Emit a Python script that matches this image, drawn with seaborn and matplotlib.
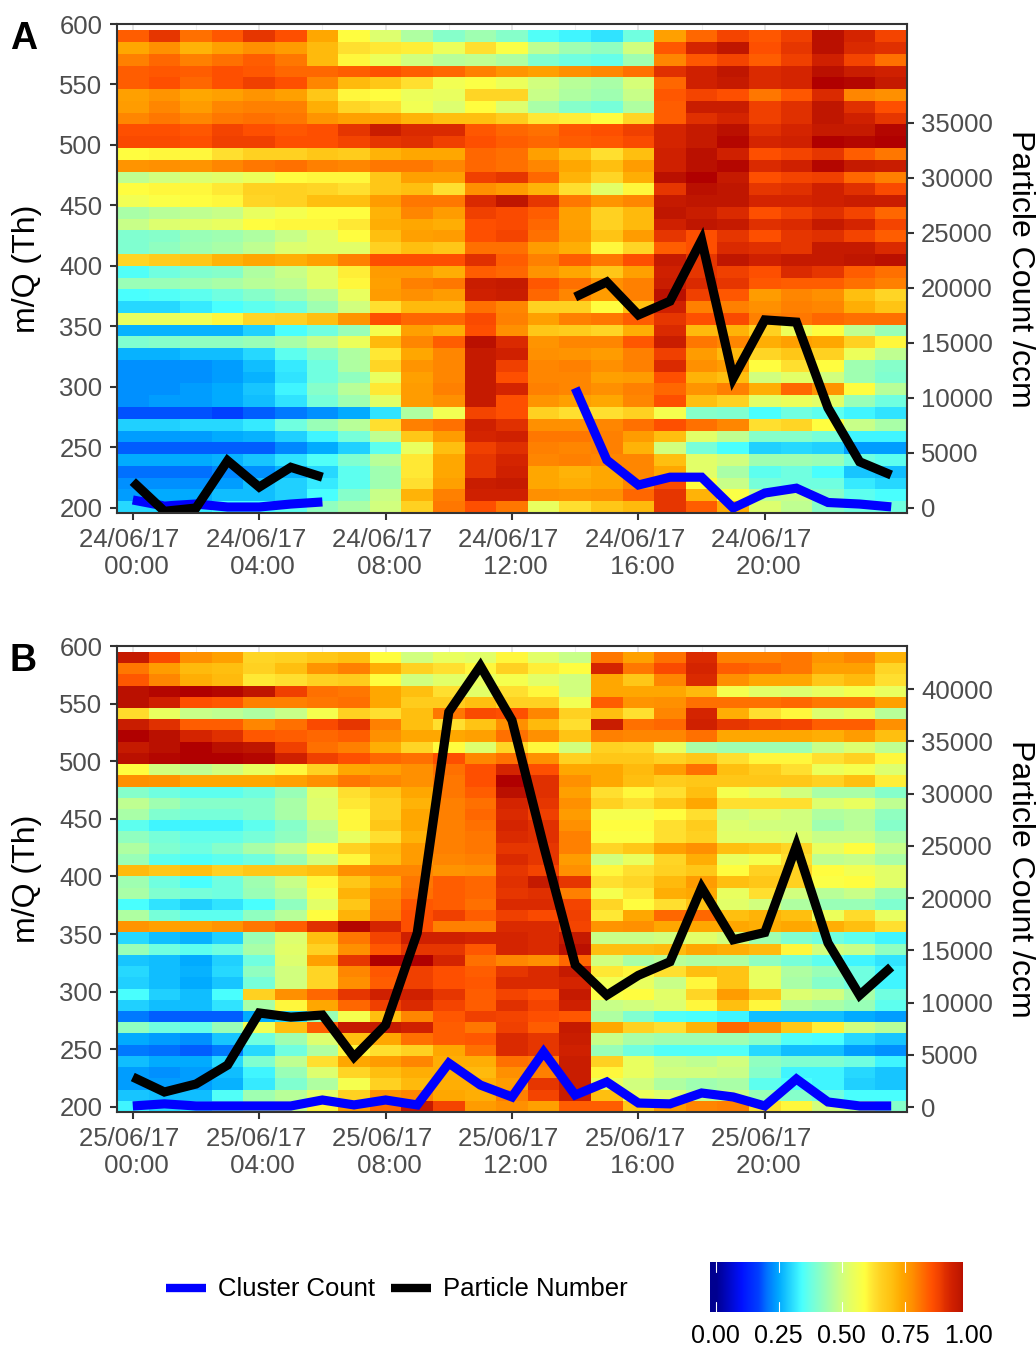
import numpy as np
import pandas as pd
import matplotlib
matplotlib.use("Agg")
import matplotlib.pyplot as plt
from matplotlib.colors import LinearSegmentedColormap
from matplotlib.lines import Line2D
import seaborn as sns

# Normalised intensity (percent), rows listed from top (high m/Q) to bottom, columns = hours 0..24
heat_a = [
[84,90,82,85,90,86,74,59,52,46,41,44,41,35,33,31,38,75,83,88,85,89,98,93,88],
[74,78,72,75,78,76,71,63,62,61,55,63,58,48,44,42,50,85,93,97,86,90,98,92,91],
[80,83,80,82,84,81,71,60,55,50,47,48,46,40,38,37,44,79,85,88,84,89,94,88,82],
[84,85,84,86,85,83,83,84,86,84,83,80,77,75,78,79,82,91,94,97,92,93,98,95,94],
[84,86,83,86,89,86,79,71,68,63,56,58,55,50,47,45,51,83,94,96,92,93,100,99,96],
[75,77,74,75,77,75,68,60,59,55,54,65,65,49,46,44,49,85,88,86,81,85,92,79,78],
[76,79,76,79,80,80,73,65,63,56,52,59,52,45,41,39,46,84,95,95,89,91,97,91,86],
[79,81,79,81,82,81,77,75,75,72,70,70,67,62,61,59,65,84,91,93,89,91,97,94,90],
[86,86,85,88,86,85,86,90,95,92,92,85,83,82,85,86,89,93,96,98,91,93,96,96,99],
[87,87,86,89,89,86,86,88,90,91,89,86,84,83,84,85,87,93,96,99,93,94,100,99,100],
[59,60,60,63,66,66,68,67,72,74,74,83,82,75,70,63,70,94,98,94,86,88,90,84,81],
[77,78,77,79,81,82,80,79,81,81,79,83,82,79,74,70,76,94,98,99,92,94,99,96,95],
[48,50,52,53,55,59,60,60,68,75,75,89,90,83,72,65,73,98,100,96,86,88,89,83,80],
[59,60,60,62,66,66,65,63,68,70,63,78,76,72,63,53,60,90,98,97,90,91,94,91,87],
[56,58,59,60,65,66,70,70,76,81,81,92,97,90,81,77,79,96,97,97,93,93,94,95,95],
[45,47,48,49,54,57,59,59,72,79,76,89,87,84,75,66,71,97,95,92,86,89,91,88,83],
[49,52,53,54,59,60,60,62,73,74,73,86,87,83,75,66,71,94,97,96,91,92,96,93,88],
[40,41,43,44,46,49,53,59,70,75,76,86,88,82,76,69,76,90,86,90,86,90,91,88,84],
[40,42,44,45,48,52,53,53,66,70,68,82,82,76,73,60,65,84,86,92,91,90,96,96,92],
[65,67,68,72,74,73,75,80,86,86,86,91,84,80,84,81,86,96,90,97,94,96,96,97,98],
[35,38,40,41,46,49,53,61,76,76,73,84,83,77,74,68,75,94,90,89,86,92,90,84,82],
[43,43,44,45,47,48,53,60,75,80,81,95,96,85,82,78,80,95,92,90,85,84,84,82,80],
[34,35,36,38,41,44,47,54,76,78,76,94,95,83,79,76,80,98,89,85,76,79,78,70,65],
[30,30,32,34,36,38,44,50,63,71,71,82,79,66,66,59,70,94,80,80,78,80,79,73,69],
[54,55,56,60,65,66,70,77,86,83,83,87,80,75,80,81,84,90,86,87,80,81,83,82,82],
[26,26,26,26,29,34,38,43,57,75,73,86,78,68,67,65,73,92,71,72,66,55,59,48,43],
[40,41,42,42,43,45,49,55,71,79,84,98,92,77,79,79,85,95,81,79,73,75,74,66,60],
[26,26,27,27,30,36,41,46,62,74,79,96,94,78,77,76,80,89,76,71,65,68,66,55,48],
[23,23,23,24,27,32,38,46,65,77,79,96,89,79,80,78,80,92,78,76,59,63,59,44,41],
[23,23,23,24,26,31,38,42,54,75,79,96,86,79,79,75,76,86,72,70,50,53,50,44,40],
[23,23,24,25,28,33,41,47,62,76,80,96,93,80,79,78,80,83,77,80,73,83,77,59,47],
[23,24,24,25,27,31,39,44,53,76,78,96,86,77,75,74,79,86,70,66,53,55,53,43,38],
[18,18,18,17,19,21,23,25,31,46,56,88,86,66,63,63,66,57,41,40,34,38,36,33,31],
[29,29,30,30,32,38,43,47,63,80,82,94,91,78,78,79,82,86,82,79,63,65,59,49,45],
[24,24,24,25,26,29,33,39,48,68,76,93,94,81,81,80,76,70,53,48,41,41,39,33,33],
[19,19,19,19,19,22,25,29,36,54,70,89,91,80,79,80,72,50,39,34,29,30,29,24,24],
[25,25,25,26,28,31,35,40,47,62,74,90,93,79,80,79,79,70,53,50,44,44,43,38,36],
[20,20,20,22,23,26,30,36,44,62,74,90,94,74,72,74,79,74,53,45,36,38,34,28,27],
[23,23,23,24,27,29,32,36,44,63,75,95,96,74,73,74,79,87,59,49,39,38,38,32,30],
[24,25,25,27,27,29,34,41,49,72,80,94,94,78,77,78,83,90,72,58,48,49,41,36,34],
[30,30,32,34,34,36,42,45,50,66,81,86,81,54,63,68,71,90,84,73,52,48,41,38,38],
]

heat_b = [
[96,87,78,75,65,66,68,70,59,50,54,53,60,53,49,81,75,82,92,80,80,81,77,79,72],
[81,76,71,70,66,70,77,80,73,66,63,60,66,61,59,93,81,87,93,84,83,81,75,75,65],
[85,79,73,71,62,63,66,67,59,50,53,54,57,53,50,74,68,79,92,78,74,74,68,71,63],
[98,99,100,99,97,89,82,81,74,70,63,53,63,60,50,74,74,74,71,57,53,52,54,57,54],
[98,94,86,85,80,80,81,82,74,67,67,70,66,66,56,84,77,78,82,82,82,83,81,81,75],
[64,54,49,48,46,49,57,66,63,70,81,87,86,79,66,70,63,79,93,73,63,60,52,54,47],
[95,91,84,84,79,82,87,90,80,70,63,69,78,71,63,95,82,83,94,90,89,88,84,84,78],
[100,98,93,91,85,84,83,84,78,74,74,75,82,78,69,80,79,79,82,74,74,74,73,76,70],
[96,98,100,98,97,89,82,80,73,65,59,52,65,60,50,66,65,54,45,44,44,44,49,52,48],
[98,99,100,100,99,94,89,86,83,82,86,79,82,78,66,68,68,66,68,63,60,60,63,66,60],
[59,50,48,50,54,60,66,74,75,78,82,86,93,86,74,74,71,76,82,70,67,63,55,57,52],
[78,77,74,74,74,75,78,81,79,78,81,86,100,91,78,74,70,67,68,68,68,68,66,70,61],
[41,38,36,36,38,43,53,63,68,74,81,84,98,91,75,63,60,63,70,57,54,50,45,45,41],
[48,44,41,41,41,45,52,62,66,72,80,82,93,90,78,66,63,68,74,63,63,63,52,54,48],
[45,40,39,39,41,45,52,60,66,74,80,83,92,89,76,57,57,59,63,50,52,50,46,47,42],
[36,33,33,33,36,41,48,60,68,74,80,82,93,91,78,59,59,63,67,52,50,50,44,47,41],
[42,39,37,37,39,42,47,54,63,72,80,81,92,91,80,58,58,63,66,53,53,52,49,49,45],
[46,40,38,41,45,49,59,66,71,76,80,81,90,90,80,65,68,75,78,70,68,65,54,59,49],
[43,36,35,36,38,43,50,60,70,76,79,80,92,90,76,50,54,65,73,54,57,63,48,49,45],
[71,68,70,66,68,68,70,78,79,79,77,78,90,88,78,60,63,66,68,59,66,66,59,56,53],
[44,38,34,38,44,49,60,68,74,81,84,83,91,96,90,63,65,71,76,70,68,66,58,59,53],
[45,40,39,38,43,47,57,72,78,82,84,83,90,91,80,57,62,73,74,54,63,50,47,49,44],
[34,31,29,31,34,42,53,68,79,85,84,82,92,92,88,65,59,63,69,53,50,46,43,43,40],
[46,39,36,36,42,47,59,72,80,86,89,84,89,87,89,62,74,83,83,70,72,70,55,64,54],
[77,75,75,77,81,84,91,99,93,86,80,80,92,92,88,77,78,74,74,74,73,74,73,70,63],
[30,27,26,29,43,52,70,81,88,94,94,93,93,92,96,49,49,50,53,50,44,40,38,36,33],
[43,38,36,38,45,53,66,78,85,90,90,85,93,92,98,70,70,71,74,73,71,60,50,49,42],
[28,27,25,29,38,52,75,90,100,100,93,82,79,78,83,50,45,47,46,46,42,39,36,33,31],
[30,27,26,30,42,50,65,79,85,89,86,84,90,92,96,62,60,63,70,69,54,46,43,38,33],
[29,27,25,28,39,50,65,78,84,89,86,85,92,92,93,56,54,49,60,69,54,45,41,38,33],
[34,29,27,34,66,78,83,90,94,94,90,84,88,86,96,58,59,53,65,76,68,52,50,45,38],
[29,27,27,31,45,60,74,83,89,92,88,84,91,88,94,49,50,52,60,70,60,47,45,43,36],
[21,19,19,19,25,30,43,57,70,79,85,89,88,86,85,46,40,35,34,33,27,27,27,25,24],
[42,38,37,43,56,70,84,96,96,94,84,81,89,84,96,74,66,63,72,83,78,68,61,50,47],
[25,24,23,28,38,44,52,70,74,82,84,85,92,90,95,49,45,44,44,44,41,35,34,30,28],
[21,20,19,21,30,38,46,60,63,66,74,82,92,90,94,43,38,35,35,35,30,27,27,24,23],
[27,25,25,30,40,48,63,74,76,79,73,73,82,81,95,66,54,49,48,50,42,40,40,38,33],
[24,23,24,27,33,43,52,65,70,73,73,71,78,80,95,60,54,50,50,49,41,33,33,30,28],
[24,24,24,26,32,40,46,57,66,71,73,73,76,90,95,54,50,46,44,45,36,34,33,29,28],
[28,27,27,35,44,47,53,66,77,79,74,73,80,88,95,70,55,52,48,49,43,41,38,34,34],
[33,30,32,38,46,49,60,76,83,96,88,76,78,75,84,84,68,76,79,80,63,60,50,48,41],
]

hours_a1 = [0, 1, 2, 3, 4, 5, 6]
particles_a1 = [2400, -300, 0, 4300, 1900, 3700, 2800]
cluster_a1 = [730, 180, 360, 90, 90, 360, 550]
hours_a2 = [14, 15, 16, 17, 18, 19, 20, 21, 22, 23, 24]
particles_a2 = [19180, 20550, 17550, 18800, 24360, 11800, 17100, 16900, 9100, 4200, 3000]
cluster_a2 = [10900, 4360, 2090, 2800, 2800, 0, 1360, 1800, 500, 360, 100]

hours_b = list(range(25))
particles_b = [2870, 1435, 2200, 4020, 9000, 8600, 8800, 4780, 7850, 16650, 37800, 42200, 37000,
               25000, 13600, 10700, 12600, 13900, 21000, 16000, 16700, 25000, 15700, 10700, 13400]
cluster_b = [100, 300, 100, 100, 100, 100, 670, 200, 670, 200, 4200, 2100, 960,
             5260, 1150, 2400, 380, 300, 1340, 960, 100, 2680, 480, 100, 100]

mq_ticks = [200, 250, 300, 350, 400, 450, 500, 550, 600]
count_ticks_a = [0, 5000, 10000, 15000, 20000, 25000, 30000, 35000]
count_ticks_b = [0, 5000, 10000, 15000, 20000, 25000, 30000, 35000, 40000]
time_ticks = [0, 4, 8, 12, 16, 20]
time_labels = ["00:00", "04:00", "08:00", "12:00", "16:00", "20:00"]
bar_ticks = [0.0, 0.25, 0.5, 0.75, 1.0]

sns.set_theme(style="white")
plt.rcParams["font.family"] = ["Liberation Sans", "DejaVu Sans"]

stops = [(0, "#000090"), (.10, "#0010FF"), (.17, "#0040FF"), (.20, "#0070FF"), (.25, "#00AAFF"),
         (.29, "#20D0FF"), (.34, "#48FFFF"), (.38, "#70FFE0"), (.42, "#90FFC0"), (.46, "#B0FFA0"),
         (.50, "#D0FF80"), (.54, "#E8FF60"), (.59, "#FFFF40"), (.63, "#FFE030"), (.66, "#FFD020"),
         (.70, "#FFC010"), (.74, "#FFA800"), (.78, "#FF9000"), (.81, "#FF7800"), (.84, "#FF6000"),
         (.86, "#FF5000"), (.89, "#F04000"), (.91, "#E03000"), (.94, "#D02000"), (.97, "#C01800"),
         (1, "#B00000")]
cmap = LinearSegmentedColormap.from_list("spectrum", stops)

W, H = 1036, 1346
LINE_W = 6.6
fig = plt.figure(figsize=(W / 100, H / 100), dpi=100, facecolor="white")


def box(l, t, r, b):
    return [l / W, 1 - b / H, (r - l) / W, (b - t) / H]


def panel(rect, heat, date, count_ticks, count_limits, segments):
    ax = fig.add_axes(rect)
    sns.heatmap(pd.DataFrame(np.array(heat) / 100), ax=ax, cmap=cmap, vmin=0, vmax=1,
                cbar=False, xticklabels=False, yticklabels=False)
    n_rows = len(heat)
    ax.set_ylim(n_rows, -0.52)
    ax.set_xlim(0, 25)
    ax.set_facecolor("white")
    ax.set_yticks([40.55 - (m - 200) * 0.1027 for m in mq_ticks])
    ax.set_yticklabels([str(m) for m in mq_ticks], fontsize=18.5, color="#4D4D4D")
    ax.set_xticks([h + 0.5 for h in time_ticks])
    # The trailing and leading spaces reproduce the staggered date/time lines of the original.
    ax.set_xticklabels([f"{date} \n {t}" for t in time_labels], fontsize=18.5, color="#4D4D4D",
                       rotation=0, linespacing=1.2)
    ax.set_xticks([h + 2.5 for h in time_ticks], minor=True)
    ax.grid(True, which="major", axis="x", color="#E6E6E6", lw=1.4)
    ax.grid(True, which="minor", axis="x", color="#EFEFEF", lw=0.8)
    ax.set_axisbelow(True)
    ax.tick_params(axis="x", which="major", length=5, width=1.5, color="#333333", bottom=True, pad=5.5)
    ax.tick_params(axis="y", which="major", length=5, width=1.5, color="#333333", left=True, pad=5.5)
    ax.tick_params(axis="x", which="minor", length=0)
    ax.set_ylabel("m/Q (Th)", fontsize=23, color="black", va="center")
    ax.yaxis.set_label_coords((27 - 117) / 790, 0.5)
    for s in ax.spines.values():
        s.set_visible(False)

    ax2 = ax.twinx()
    ax2.grid(False)
    ax2.set_ylim(*count_limits)
    for hours, values, colour in segments:
        sns.lineplot(x=[h + 0.5 for h in hours], y=values, ax=ax2, color=colour, lw=LINE_W,
                     estimator=None, errorbar=None, solid_capstyle="butt",
                     solid_joinstyle="miter", legend=False)
    ax2.set_xlim(0, 25)
    ax2.set_yticks(count_ticks)
    ax2.set_yticklabels([str(c) for c in count_ticks], fontsize=18.5, color="#4D4D4D")
    ax2.tick_params(axis="y", right=True, length=5, width=1.5, color="#333333", pad=5)
    ax2.set_ylabel("Particle Count /ccm", fontsize=23, color="black", rotation=-90, va="center")
    ax2.yaxis.set_label_coords((1020 - 117) / 790, 0.5)
    for s in ax2.spines.values():
        s.set_visible(True)
        s.set_color("#333333")
        s.set_linewidth(1.5)
    return ax, ax2


panel(box(117, 24, 907, 513), heat_a, "24/06/17", count_ticks_a, (-455, 44000),
      [(hours_a1, cluster_a1, "#0000FF"), (hours_a1, particles_a1, "black"),
       (hours_a2, cluster_a2, "#0000FF"), (hours_a2, particles_a2, "black")])
panel(box(117, 646, 907, 1112), heat_b, "25/06/17", count_ticks_b, (-478, 44115),
      [(hours_b, cluster_b, "#0000FF"), (hours_b, particles_b, "black")])

fig.text(10 / W, 1 - 39 / H, "A", fontsize=27, fontweight="bold", color="black", va="center")
fig.text(10 / W, 1 - 661 / H, "B", fontsize=27, fontweight="bold", color="black", va="center")

handles = [Line2D([], [], color="#0000FF", lw=6.0, solid_capstyle="butt"),
           Line2D([], [], color="black", lw=6.0, solid_capstyle="butt")]
fig.legend(handles, ["Cluster Count", "Particle Number"], ncols=2, loc="center",
           bbox_to_anchor=(397 / W, 1 - 1289.5 / H), frameon=False, fontsize=18.5,
           handlelength=1.56, handletextpad=0.47, columnspacing=0.62, labelcolor="black")

bar_left, bar_right = 710, 963
cax = fig.add_axes(box(bar_left, 1262, bar_right, 1312))
low, high = -0.022, 0.98
cax.imshow(np.linspace(low, high, 512)[None, :], extent=[low, high, 0, 1], aspect="auto",
           cmap=cmap, vmin=0, vmax=1)
cax.set_xlim(low, high)
cax.set_ylim(0, 1)
cax.set_xticks([])
cax.set_yticks([])
for s in cax.spines.values():
    s.set_visible(False)
for v in bar_ticks:
    if v < high:
        cax.plot([v, v], [0, 0.2], color="white", lw=0.8)
        cax.plot([v, v], [0.8, 1], color="white", lw=0.8)
    px = bar_left + (v - low) / (high - low) * (bar_right - bar_left)
    fig.text(px / W, 1 - 1336 / H, f"{v:.2f}", ha="center", va="center", fontsize=18, color="black")

fig.savefig("out.png", dpi=100, facecolor="white")
